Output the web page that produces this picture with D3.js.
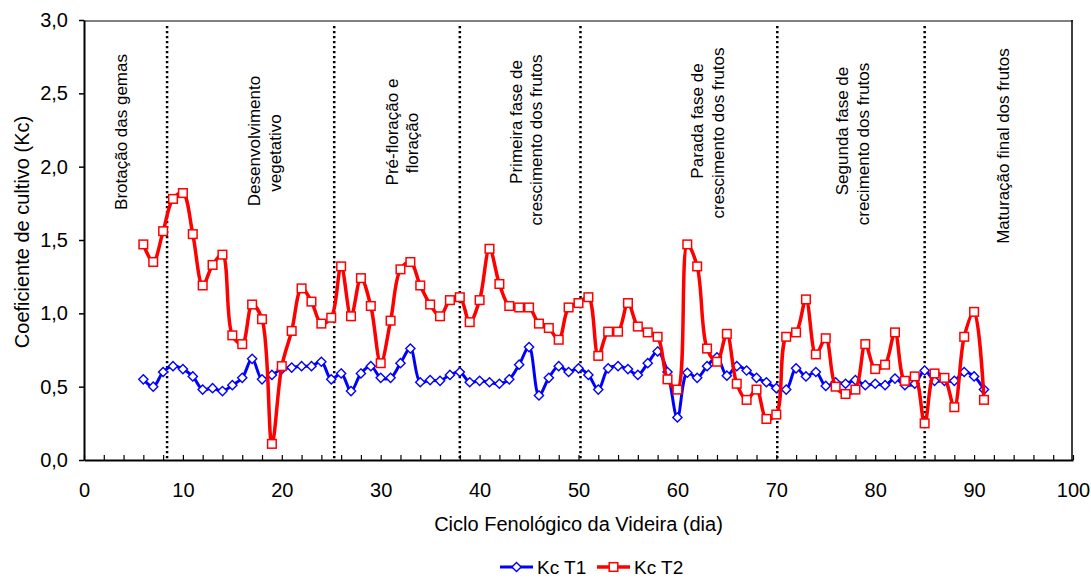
<!DOCTYPE html>
<html><head><meta charset="utf-8">
<script src="https://cdn.jsdelivr.net/npm/d3@7/dist/d3.min.js"></script>
<style>
body{margin:0;background:#fff;}
text{font-family:"Liberation Sans",Arial,Helvetica,sans-serif;fill:#000;}
</style>
</head><body>
<svg id="chart" width="1091" height="578"></svg>
<script>
// ---------- DATA ----------
const days = [6,7,8,9,10,11,12,13,14,15,16,17,18,19,20,21,22,23,24,25,26,27,28,29,30,31,32,33,34,35,36,37,38,39,40,41,42,43,44,45,46,47,48,49,50,51,52,53,54,55,56,57,58,59,60,61,62,63,64,65,66,67,68,69,70,71,72,73,74,75,76,77,78,79,80,81,82,83,84,85,86,87,88,89,90,91];
const kcT1 = [0.55,0.50,0.60,0.64,0.62,0.57,0.48,0.49,0.47,0.51,0.56,0.69,0.55,0.58,0.62,0.63,0.64,0.64,0.67,0.55,
              0.59,0.47,0.59,0.64,0.56,0.56,0.66,0.76,0.53,0.545,0.54,0.58,0.60,0.53,0.54,0.53,0.52,0.55,0.65,0.77,
              0.44,0.56,0.64,0.60,0.625,0.58,0.48,0.625,0.64,0.62,0.58,0.66,0.74,0.60,0.29,0.595,0.56,0.64,0.70,0.575,
              0.64,0.61,0.56,0.53,0.49,0.48,0.625,0.57,0.60,0.505,0.53,0.52,0.545,0.51,0.52,0.51,0.555,0.51,0.52,0.61,
              0.54,0.54,0.54,0.60,0.57,0.48];
const kcT2 = [1.47,1.35,1.56,1.78,1.82,1.54,1.19,1.33,1.40,0.85,0.79,1.06,0.96,0.11,0.64,0.88,1.17,1.08,0.93,0.97,
              1.32,0.98,1.24,1.05,0.66,0.95,1.30,1.35,1.19,1.06,0.98,1.09,1.11,0.94,1.09,1.44,1.20,1.05,1.04,1.04,
              0.93,0.90,0.82,1.04,1.07,1.11,0.71,0.875,0.875,1.07,0.91,0.87,0.84,0.55,0.48,1.47,1.32,0.76,0.67,0.86,
              0.52,0.41,0.48,0.28,0.31,0.84,0.87,1.095,0.72,0.83,0.50,0.45,0.48,0.79,0.62,0.65,0.87,0.54,0.57,0.25,
              0.59,0.56,0.36,0.84,1.01,0.41];
const seriesNames = ["Kc T1","Kc T2"];
const yTicks = [0,0.5,1.0,1.5,2.0,2.5,3.0];
const xTickLabels = [0,10,20,30,40,50,60,70,80,90,100];
const xMinorTicks = [2,4,6,8,12,14,16,18,22,24,26,28,32,34,36,38,42,44,46,48,52,54,56,58,62,64,66,68,72,74,76,78,82,84,86,88,92,94,96,98];
const phaseBounds = [8.4, 25.3, 38, 50.2, 70.1, 85];
const phaseLabels = [
  ["Brotação das gemas"],
  ["Desenvolvimento","vegetativo"],
  ["Pré-floração e","floração"],
  ["Primeira fase de","crescimento dos frutos"],
  ["Parada fase de","crescimento dos frutos"],
  ["Segunda fase de","crecimento dos frutos"],
  ["Maturação final dos frutos"]
];
const xTitle = "Ciclo Fenológico da Videira (dia)";
const yTitle = "Coeficiente de cultivo (Kc)";

// ---------- LAYOUT ----------
// baseline x and centre y for each rotated label line
const phaseLayout = [
  [[127,132]],
  [[260,141],[280.5,153]],
  [[397.5,132],[417.5,143]],
  [[522,122],[542,140]],
  [[702.5,121],[724,133]],
  [[847.5,131],[869,144]],
  [[1009,146]]
];

const svg = d3.select("#chart");
const x = d3.scaleLinear().domain([0,100]).range([84,1073]);
const y = d3.scaleLinear().domain([0,3]).range([460,20]);
const fmt = d => d3.format(".1f")(d).replace(".", ",");

// frame top / right
svg.append("line").attr("x1",x(0)).attr("x2",x(100)).attr("y1",y(3)+1).attr("y2",y(3)+1)
  .attr("stroke","#808080").attr("stroke-width",2);
svg.append("line").attr("x1",x(100)-1).attr("x2",x(100)-1).attr("y1",y(3)).attr("y2",y(0))
  .attr("stroke","#000").attr("stroke-width",1.5);

// phase dotted lines
svg.append("g").selectAll("line").data(phaseBounds).join("line")
  .attr("x1",d=>x(d)).attr("x2",d=>x(d)).attr("y1",26).attr("y2",y(0))
  .attr("stroke","#000").attr("stroke-width",2.5).attr("stroke-dasharray","2.2,2.8");

// phase labels
phaseLabels.forEach((lines,i)=>{
  lines.forEach((t,j)=>{
    const [bx,cy] = phaseLayout[i][j];
    svg.append("text").attr("transform",`translate(${bx},${cy}) rotate(-90)`)
      .attr("text-anchor","middle").style("font-size","17px").text(t);
  });
});

// y axis
const yAxis = svg.append("g").attr("transform",`translate(${x(0)},0)`)
  .call(d3.axisLeft(y).tickValues(yTicks).tickSize(5).tickSizeOuter(0).tickPadding(11).tickFormat(fmt));
yAxis.select(".domain").attr("stroke","#000").attr("stroke-width",2);
yAxis.selectAll(".tick line").attr("stroke","#000").attr("stroke-width",1.5);
yAxis.selectAll("text").style("font-size","20px").attr("font-family",null).attr("fill","#000");

// x axis
const xAxis = svg.append("g").attr("transform",`translate(0,${y(0)})`)
  .call(d3.axisBottom(x).tickValues(xMinorTicks.concat(xTickLabels)).tickSize(-5).tickSizeOuter(0)
    .tickFormat(d => xTickLabels.includes(d) ? d : ""));
xAxis.select(".domain").attr("stroke","#000").attr("stroke-width",2);
xAxis.selectAll(".tick line").attr("stroke","#000").attr("stroke-width",1.2);
xAxis.selectAll("text").style("font-size","20px").attr("font-family",null).attr("fill","#000")
  .attr("dy",null).attr("y",37);

// axis titles
svg.append("text").attr("x",(x(0)+x(100))/2).attr("y",530.5).attr("text-anchor","middle")
  .style("font-size","20px").text(xTitle);
svg.append("text").attr("transform",`translate(29,232) rotate(-90)`).attr("text-anchor","middle")
  .style("font-size","20px").text(yTitle);

// series
const pts1 = days.map((d,i)=>[d,kcT1[i]]);
const pts2 = days.map((d,i)=>[d,kcT2[i]]);
const line = d3.line().x(d=>x(d[0])).y(d=>y(d[1])).curve(d3.curveCatmullRom.alpha(0.5));
const diamond = r => `M0,${-r}L${r},0L0,${r}L${-r},0Z`;

svg.append("path").datum(pts1).attr("d",line).attr("fill","none").attr("stroke","#0000ff").attr("stroke-width",3);
svg.append("g").selectAll("path").data(pts1).join("path")
  .attr("transform",d=>`translate(${x(d[0])},${y(d[1])})`).attr("d",diamond(4.6))
  .attr("fill","#fff").attr("stroke","#0000ff").attr("stroke-width",1.4);

svg.append("path").datum(pts2).attr("d",line).attr("fill","none").attr("stroke","#ff0000").attr("stroke-width",3.5);
svg.append("g").selectAll("rect").data(pts2).join("rect")
  .attr("x",d=>x(d[0])-4.3).attr("y",d=>y(d[1])-4.3).attr("width",8.6).attr("height",8.6)
  .attr("fill","#fff").attr("stroke","#ff0000").attr("stroke-width",1.5);

// legend
const lg = svg.append("g");
const legendY = 567;
const legendItems = [
  {name:seriesNames[0], color:"#0000ff", x0:500, marker:"diamond", lw:3},
  {name:seriesNames[1], color:"#ff0000", x0:597, marker:"square", lw:3.5}
];
legendItems.forEach(it=>{
  lg.append("line").attr("x1",it.x0).attr("x2",it.x0+33).attr("y1",legendY).attr("y2",legendY)
    .attr("stroke",it.color).attr("stroke-width",it.lw);
  if(it.marker==="diamond"){
    lg.append("path").attr("transform",`translate(${it.x0+16.5},${legendY})`).attr("d",diamond(4.6))
      .attr("fill","#fff").attr("stroke",it.color).attr("stroke-width",1.4);
  } else {
    lg.append("rect").attr("x",it.x0+16.5-4.3).attr("y",legendY-4.3).attr("width",8.6).attr("height",8.6)
      .attr("fill","#fff").attr("stroke",it.color).attr("stroke-width",1.5);
  }
  lg.append("text").attr("x",it.x0+37).attr("y",legendY+6.5).style("font-size","19px").text(it.name);
});
</script>
</body></html>
